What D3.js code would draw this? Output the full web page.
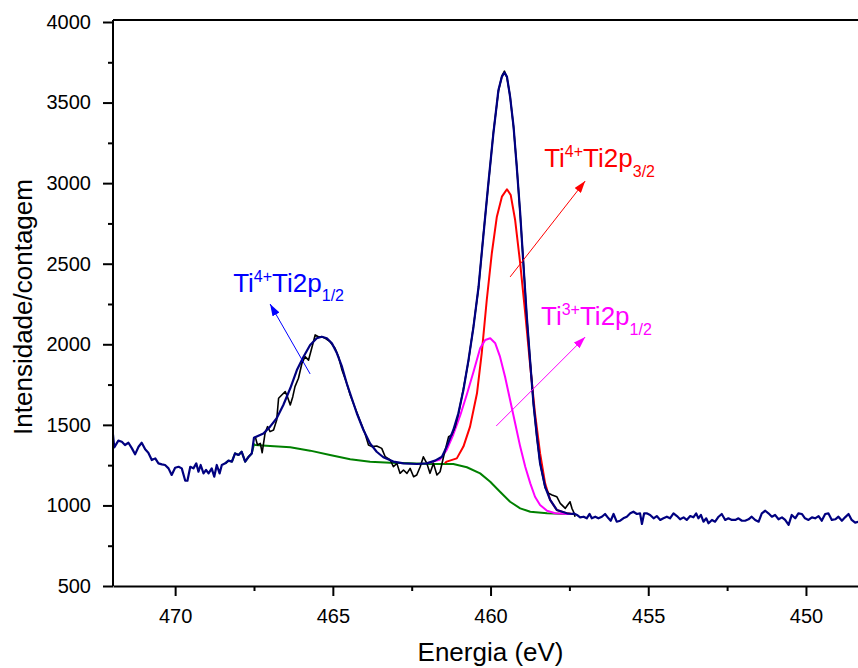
<!DOCTYPE html>
<html>
<head>
<meta charset="utf-8">
<script src="https://cdn.jsdelivr.net/npm/d3@7"></script>
<style>
  body { margin: 0; background: #fff; }
  svg { display: block; font-family: Arial, "Liberation Sans", sans-serif; }
</style>
</head>
<body>
<div id="chart-container"></div>
<script>
// ---- data read off the Ti2p XPS spectrum : [energy (eV), counts] ----
// raw spectrum outside the fitted window (navy)
const rawLeft = [
  [471.97, 1440], [471.93, 1360], [471.80, 1402], [471.69, 1395], [471.59, 1375], [471.48, 1389],
  [471.37, 1354], [471.27, 1317], [471.16, 1364], [471.06, 1389], [470.95, 1348], [470.85, 1327],
  [470.74, 1282], [470.63, 1292], [470.53, 1261], [470.42, 1255], [470.32, 1251], [470.21, 1230],
  [470.11, 1189], [470.00, 1234], [469.89, 1240], [469.79, 1230], [469.68, 1153], [469.61, 1153],
  [469.52, 1240], [469.42, 1230], [469.33, 1261], [469.26, 1209], [469.19, 1251], [469.10, 1199],
  [469.02, 1220], [468.94, 1199], [468.84, 1230], [468.76, 1178], [468.68, 1251], [468.59, 1199],
  [468.52, 1251], [468.41, 1261], [468.31, 1278], [468.20, 1272], [468.10, 1323], [467.99, 1313],
  [467.89, 1333], [467.78, 1272], [467.67, 1302], [467.57, 1323]
]
const rawRight = [
  [457.37, 951], [457.26, 941], [457.16, 926], [457.05, 930], [456.95, 920], [456.86, 947],
  [456.79, 920], [456.68, 930], [456.58, 920], [456.47, 930], [456.37, 947], [456.26, 920],
  [456.19, 905], [456.10, 947], [456.00, 899], [455.89, 905], [455.79, 920], [455.68, 930],
  [455.57, 951], [455.47, 961], [455.36, 947], [455.26, 951], [455.20, 885], [455.13, 951],
  [455.05, 951], [454.94, 941], [454.83, 920], [454.73, 934], [454.62, 910], [454.52, 920],
  [454.41, 930], [454.31, 920], [454.20, 951], [454.09, 934], [453.99, 914], [453.88, 926],
  [453.78, 910], [453.67, 934], [453.57, 926], [453.48, 951], [453.41, 920], [453.33, 941],
  [453.25, 899], [453.16, 920], [453.09, 889], [452.98, 910], [452.88, 899], [452.77, 930],
  [452.67, 947], [452.56, 910], [452.46, 920], [452.35, 910], [452.24, 910], [452.14, 920],
  [452.03, 905], [451.93, 905], [451.82, 914], [451.72, 930], [451.61, 910], [451.50, 899],
  [451.40, 951], [451.29, 967], [451.19, 951], [451.08, 930], [450.98, 941], [450.87, 914],
  [450.76, 926], [450.66, 910], [450.55, 879], [450.45, 941], [450.34, 920], [450.24, 951],
  [450.13, 947], [450.03, 920], [449.92, 910], [449.81, 926], [449.71, 920], [449.60, 934],
  [449.50, 905], [449.39, 947], [449.29, 951], [449.18, 910], [449.07, 914], [448.97, 930],
  [448.86, 905], [448.76, 926], [448.65, 947], [448.55, 910], [448.44, 893], [448.33, 899]
]
// raw spectrum inside the fitted window (black)
const rawFit = [
  [467.46, 1427], [467.39, 1375], [467.30, 1385], [467.24, 1327], [467.15, 1447], [467.07, 1489],
  [466.99, 1458], [466.88, 1468], [466.78, 1530], [466.72, 1665], [466.62, 1685], [466.51, 1706],
  [466.44, 1675], [466.35, 1623], [466.27, 1675], [466.20, 1737], [466.09, 1789], [465.98, 1882],
  [465.88, 1923], [465.77, 1902], [465.67, 1975], [465.56, 2058], [465.46, 2047], [465.35, 2047],
  [465.24, 2037], [465.09, 2016], [464.93, 1975], [464.82, 1923], [464.71, 1840], [464.56, 1758],
  [464.45, 1685], [464.29, 1603], [464.13, 1520], [463.98, 1447], [463.87, 1375], [463.76, 1365],
  [463.61, 1369], [463.45, 1354], [463.34, 1302], [463.18, 1282], [463.08, 1240], [462.97, 1261],
  [462.87, 1199], [462.76, 1220], [462.65, 1199], [462.55, 1230], [462.44, 1178], [462.34, 1189],
  [462.23, 1240], [462.13, 1302], [462.02, 1261], [461.92, 1199], [461.81, 1261], [461.70, 1189],
  [461.60, 1209], [461.49, 1302], [461.33, 1427], [461.23, 1437], [461.12, 1489], [461.02, 1565],
  [460.86, 1725], [460.70, 1895], [460.54, 2115], [460.38, 2350], [460.23, 2675], [460.07, 2990],
  [459.91, 3315], [459.75, 3570], [459.64, 3665], [459.56, 3695], [459.48, 3655], [459.38, 3540],
  [459.27, 3345], [459.17, 3110], [459.06, 2805], [458.96, 2510], [458.85, 2165], [458.74, 1890],
  [458.64, 1630], [458.53, 1420], [458.43, 1265], [458.27, 1110], [458.16, 1075], [458.05, 1065],
  [457.90, 1054], [457.79, 1013], [457.63, 982], [457.48, 1023], [457.42, 982], [457.37, 961],
  [457.32, 930]
]
// cumulative fit envelope (navy)
const fitSum = [
  [467.50, 1420], [467.20, 1447], [466.99, 1489], [466.78, 1541], [466.57, 1623], [466.35, 1727],
  [466.14, 1840], [465.93, 1923], [465.72, 1996], [465.51, 2037], [465.35, 2047], [465.19, 2037],
  [465.03, 2006], [464.87, 1944], [464.71, 1861], [464.56, 1758], [464.40, 1665], [464.24, 1572],
  [464.03, 1468], [463.82, 1385], [463.61, 1333], [463.40, 1299], [463.08, 1272], [462.76, 1261],
  [462.34, 1257], [462.02, 1261], [461.76, 1278], [461.54, 1302], [461.39, 1365], [461.18, 1468],
  [461.02, 1572], [460.86, 1716], [460.70, 1902], [460.54, 2109], [460.38, 2357], [460.23, 2668],
  [460.07, 2999], [459.91, 3309], [459.75, 3578], [459.64, 3661], [459.56, 3686], [459.48, 3661],
  [459.38, 3536], [459.27, 3350], [459.17, 3102], [459.06, 2813], [458.96, 2502], [458.85, 2171],
  [458.74, 1882], [458.64, 1634], [458.53, 1427], [458.43, 1261], [458.27, 1116], [458.11, 1034],
  [457.90, 972], [457.58, 951], [457.40, 947]
]
// Shirley background (green)
const background = [
  [468.41, 1261], [468.31, 1278], [468.20, 1272], [468.10, 1323], [467.99, 1313], [467.89, 1333],
  [467.78, 1272], [467.67, 1302], [467.57, 1323], [467.50, 1380], [467.46, 1375], [466.99, 1369],
  [466.35, 1361], [465.72, 1340], [465.09, 1313], [464.45, 1286], [463.82, 1271], [463.18, 1265],
  [462.55, 1261], [461.92, 1257], [461.18, 1257], [460.75, 1237], [460.33, 1199], [460.01, 1147],
  [459.70, 1085], [459.38, 1023], [459.06, 982], [458.74, 961], [458.21, 951], [457.58, 947],
  [457.35, 947]
]
// Ti4+ 2p3/2 component (red)
const peakTi4 = [
  [461.45, 1262], [461.39, 1272], [461.07, 1292], [460.86, 1365], [460.65, 1489], [460.43, 1696],
  [460.28, 1944], [460.12, 2275], [459.96, 2565], [459.80, 2792], [459.64, 2916], [459.48, 2962],
  [459.36, 2926], [459.22, 2771], [459.06, 2502], [458.90, 2192], [458.74, 1861], [458.59, 1572],
  [458.43, 1324], [458.27, 1137], [458.11, 1034], [457.90, 972], [457.58, 951], [457.40, 947]
]
// Ti3+ component (magenta)
const peakTi3 = [
  [462.00, 1262], [461.60, 1285], [461.39, 1345], [461.18, 1440], [460.96, 1560], [460.75, 1690],
  [460.54, 1830], [460.33, 1975], [460.17, 2027], [460.01, 2037], [459.85, 2006], [459.70, 1923],
  [459.54, 1799], [459.38, 1654], [459.22, 1510], [459.06, 1365], [458.90, 1240], [458.74, 1137],
  [458.59, 1054], [458.43, 1003], [458.21, 967], [457.95, 951], [457.58, 947], [457.40, 947]
]

const xTicks = [470, 465, 460, 455, 450]
const xMinorTicks = [467.5, 462.5, 457.5, 452.5]
const yTicks = [500, 1000, 1500, 2000, 2500, 3000, 3500, 4000]
const yMinorTicks = [750, 1250, 1750, 2250, 2750, 3250, 3750]

// annotations: label anchor + arrow (tail -> head) in data units
const labels = [
  { ion: "4+", orbital: "1/2", color: "#0000FF", at: [468.16, 2324], from: [465.72, 1816], to: [466.99, 2250], sup: -10, sub: 9 },
  { ion: "4+", orbital: "3/2", color: "#FF0000", at: [458.30, 3100], from: [459.38, 2418], to: [457.00, 3013], sup: -10, sub: 10 },
  { ion: "3+", orbital: "1/2", color: "#FF00FF", at: [458.40, 2120], from: [459.82, 1493], to: [457.00, 2045], sup: -10, sub: 10 }
]

const width = 858, height = 668
const margin = { top: 22, right: 0, bottom: 82, left: 113 }

const svg = d3.select("#chart-container")
  .append("svg")
  .attr("width", width)
  .attr("height", height)

const xScale = d3.scaleLinear()
  .domain([471.97, 448.35])
  .range([margin.left, width - margin.right])

const yScale = d3.scaleLinear()
  .domain([500, 4000])
  .range([height - margin.bottom, margin.top])

svg.append("defs").append("clipPath")
  .attr("id", "plot-clip")
  .append("rect")
  .attr("x", margin.left)
  .attr("y", 0)
  .attr("width", width - margin.left)
  .attr("height", height - margin.bottom)

const line = d3.line()
  .x(d => xScale(d[0]))
  .y(d => yScale(d[1]))

const plot = svg.append("g").attr("clip-path", "url(#plot-clip)")

// draw order: background, components, raw data, envelope on top
const series = [
  { data: background, color: "#008000", w: 2 },
  { data: peakTi4, color: "#FF0000", w: 2 },
  { data: peakTi3, color: "#FF00FF", w: 2 },
  { data: rawFit, color: "#000000", w: 1.6 },
  { data: rawLeft.concat(fitSum, rawRight), color: "#000080", w: 2.2 }
]

plot.selectAll(".curve")
  .data(series)
  .join("path")
  .attr("class", "curve")
  .attr("d", d => line(d.data))
  .attr("fill", "none")
  .attr("stroke", d => d.color)
  .attr("stroke-width", d => d.w)
  .attr("stroke-linejoin", "round")

// ---- axes ----
const xAxis = d3.axisBottom(xScale)
  .tickValues(xTicks)
  .tickSize(10)
  .tickSizeOuter(0)
  .tickPadding(13)
  .tickFormat(d3.format("d"))

const gx = svg.append("g")
  .attr("transform", `translate(0,${yScale(500)})`)
  .call(xAxis)

svg.append("g")
  .attr("transform", `translate(0,${yScale(500)})`)
  .call(d3.axisBottom(xScale).tickValues(xMinorTicks).tickSize(5).tickFormat(""))
  .call(g => g.select(".domain").remove())

const yAxis = d3.axisLeft(yScale)
  .tickValues(yTicks)
  .tickSize(10)
  .tickSizeOuter(0)
  .tickPadding(12)
  .tickFormat(d3.format("d"))

const gy = svg.append("g")
  .attr("transform", `translate(${margin.left},0)`)
  .call(yAxis)

svg.append("g")
  .attr("transform", `translate(${margin.left},0)`)
  .call(d3.axisLeft(yScale).tickValues(yMinorTicks).tickSize(5).tickFormat(""))
  .call(g => g.select(".domain").remove())

svg.selectAll(".tick line").attr("stroke", "#000").attr("stroke-width", 2)
svg.selectAll(".domain").attr("stroke", "#000").attr("stroke-width", 2)
svg.selectAll(".tick text")
  .attr("font-size", 20)
  .attr("font-family", "Arial, 'Liberation Sans', sans-serif")
  .attr("fill", "#000")

// extend left axis up to the frame top, and the top frame line
gy.select(".domain").attr("d", `M0,${yScale(500)}V${margin.top - 2}`)
svg.append("line")
  .attr("x1", margin.left)
  .attr("x2", width)
  .attr("y1", margin.top - 2)
  .attr("y2", margin.top - 2)
  .attr("stroke", "#000")
  .attr("stroke-width", 2)

// axis titles
svg.append("text")
  .attr("x", xScale(460))
  .attr("y", 661)
  .attr("text-anchor", "middle")
  .attr("font-size", 26)
  .attr("fill", "#000")
  .text("Energia (eV)")

svg.append("text")
  .attr("transform", `translate(32,307) rotate(-90)`)
  .attr("text-anchor", "middle")
  .attr("font-size", 26)
  .attr("fill", "#000")
  .text("Intensidade/contagem")

// ---- annotations ----
const defs = svg.select("defs")
labels.forEach((l, i) => {
  defs.append("marker")
    .attr("id", "head" + i)
    .attr("viewBox", "0 0 12 8")
    .attr("refX", 12)
    .attr("refY", 4)
    .attr("markerWidth", 12)
    .attr("markerHeight", 8)
    .attr("markerUnits", "userSpaceOnUse")
    .attr("orient", "auto")
    .append("path")
    .attr("d", "M0,0L12,4L0,8Z")
    .attr("fill", l.color)
})

svg.selectAll(".arrow")
  .data(labels)
  .join("line")
  .attr("class", "arrow")
  .attr("x1", d => xScale(d.from[0]))
  .attr("y1", d => yScale(d.from[1]))
  .attr("x2", d => xScale(d.to[0]))
  .attr("y2", d => yScale(d.to[1]))
  .attr("stroke", d => d.color)
  .attr("stroke-width", 1)
  .attr("marker-end", (d, i) => `url(#head${i})`)

const lab = svg.selectAll(".peak-label")
  .data(labels)
  .join("text")
  .attr("class", "peak-label")
  .attr("x", d => xScale(d.at[0]))
  .attr("y", d => yScale(d.at[1]))
  .attr("fill", d => d.color)
  .attr("font-size", 26)

lab.append("tspan").text("Ti")
lab.append("tspan").attr("font-size", 16).attr("dy", d => d.sup).text(d => d.ion)
lab.append("tspan").attr("dy", d => -d.sup).text("Ti2p")
lab.append("tspan").attr("font-size", 16).attr("dy", d => d.sub).text(d => d.orbital)
</script>
</body>
</html>
